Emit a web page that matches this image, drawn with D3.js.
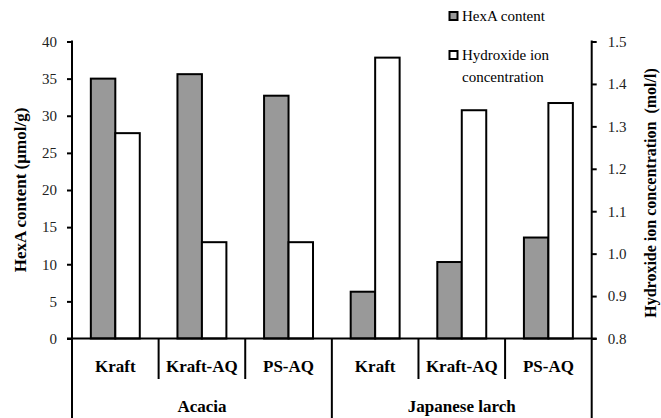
<!DOCTYPE html>
<html><head><meta charset="utf-8">
<script src="https://cdn.jsdelivr.net/npm/d3@7"></script>
<style>
body{margin:0;background:#fff;}
</style></head>
<body><svg id="c" width="661" height="418"></svg>
<script>
const categories = ["Kraft","Kraft-AQ","PS-AQ","Kraft","Kraft-AQ","PS-AQ"];
const groups = ["Acacia","Japanese larch"];
const hexaContent = [35.0, 35.6, 32.7, 6.3, 10.3, 13.6];
const hydroxideConc = [1.284, 1.027, 1.027, 1.462, 1.338, 1.355];
const leftTicks = [0,5,10,15,20,25,30,35,40];
const rightTicks = [0.8,0.9,1.0,1.1,1.2,1.3,1.4,1.5];
const seriesNames = ["HexA content","Hydroxide ion concentration"];

const FONT = "'Liberation Serif','Times New Roman',serif";
const svg = d3.select("#c");
const X0 = 72, X1 = 591.7, Y0 = 338.5, Y1 = 41.5;
const yL = d3.scaleLinear().domain([0,40]).range([Y0,Y1]);
const yR = d3.scaleLinear().domain([0.8,1.5]).range([Y0,Y1]);
const x = d3.scaleBand().domain(d3.range(categories.length)).range([X0,X1]).padding(0);
const xs = d3.scaleBand().domain([0,1]).range([0,x.bandwidth()]).paddingInner(0).paddingOuter(0.77);

function txt(sel, size, bold){
  return sel.style("font-family",FONT).style("font-size",size+"px")
    .style("font-weight",bold?"bold":"normal").attr("fill","#000");
}

// bars
const g = svg.append("g");
g.selectAll("rect.h").data(hexaContent).join("rect")
  .attr("x",(d,i)=>x(i)+xs(0)).attr("width",xs.bandwidth())
  .attr("y",d=>yL(d)).attr("height",d=>Y0-yL(d))
  .attr("fill","#999999").attr("stroke","#000").attr("stroke-width",2);
g.selectAll("rect.o").data(hydroxideConc).join("rect")
  .attr("x",(d,i)=>x(i)+xs(1)).attr("width",xs.bandwidth())
  .attr("y",d=>yR(d)).attr("height",d=>Y0-yR(d))
  .attr("fill","#fff").attr("stroke","#000").attr("stroke-width",2);

// axes
const axL = svg.append("g").attr("transform",`translate(${X0},0)`)
  .call(d3.axisLeft(yL).tickValues(leftTicks).tickSize(5).tickPadding(10));
const axR = svg.append("g").attr("transform",`translate(${X1},0)`)
  .call(d3.axisRight(yR).tickValues(rightTicks).tickSize(5).tickPadding(11).tickFormat(d3.format(".1f")));
[axL,axR].forEach(a=>{
  a.select(".domain").remove();
  a.selectAll("line").attr("stroke","#000").attr("stroke-width",2);
  txt(a.selectAll("text"),15,false).attr("fill","#222");
});
// axis lines (extend to bottom as group dividers)
svg.append("line").attr("x1",X0).attr("x2",X0).attr("y1",Y1-1).attr("y2",418).attr("stroke","#000").attr("stroke-width",2);
svg.append("line").attr("x1",X1).attr("x2",X1).attr("y1",Y1-1).attr("y2",418).attr("stroke","#000").attr("stroke-width",2);
svg.append("line").attr("x1",X0-5).attr("x2",X1+5).attr("y1",Y0).attr("y2",Y0).attr("stroke","#000").attr("stroke-width",2);

// category dividers
d3.range(1,categories.length).forEach(i=>{
  const isGroup = i===3;
  svg.append("line").attr("x1",x(i)).attr("x2",x(i)).attr("y1",Y0).attr("y2",isGroup?418:379)
    .attr("stroke","#000").attr("stroke-width",2);
});
// category labels
txt(svg.selectAll("text.cat").data(categories).join("text")
  .attr("x",(d,i)=>x(i)+x.bandwidth()/2).attr("y",372)
  .attr("text-anchor","middle"),17,true).text(d=>d);
txt(svg.selectAll("text.grp").data(groups).join("text")
  .attr("x",(d,i)=>x(i*3)+x.bandwidth()*1.5).attr("y",412)
  .attr("text-anchor","middle"),17,true).text(d=>d);

// axis titles
txt(svg.append("text").attr("transform","translate(26,190) rotate(-90)").attr("text-anchor","middle"),17,true)
  .text("HexA content (µmol/g)");
txt(svg.append("text").attr("transform","translate(656,193) rotate(-90)").attr("text-anchor","middle"),16,true)
  .style("white-space","pre")
  .text("Hydroxide ion concentration  (mol/l)");

// legend
const lg = svg.append("g");
lg.append("rect").attr("x",449.5).attr("y",12).attr("width",8).attr("height",8)
  .attr("fill","#999").attr("stroke","#000").attr("stroke-width",2);
txt(lg.append("text").attr("x",462).attr("y",21),15,false).text(seriesNames[0]);
lg.append("rect").attr("x",449.5).attr("y",51).attr("width",8).attr("height",8)
  .attr("fill","#fff").attr("stroke","#000").attr("stroke-width",2);
txt(lg.append("text").attr("x",462).attr("y",60),15,false).text("Hydroxide ion");
txt(lg.append("text").attr("x",462).attr("y",82),15,false).text("concentration");
</script></body></html>
